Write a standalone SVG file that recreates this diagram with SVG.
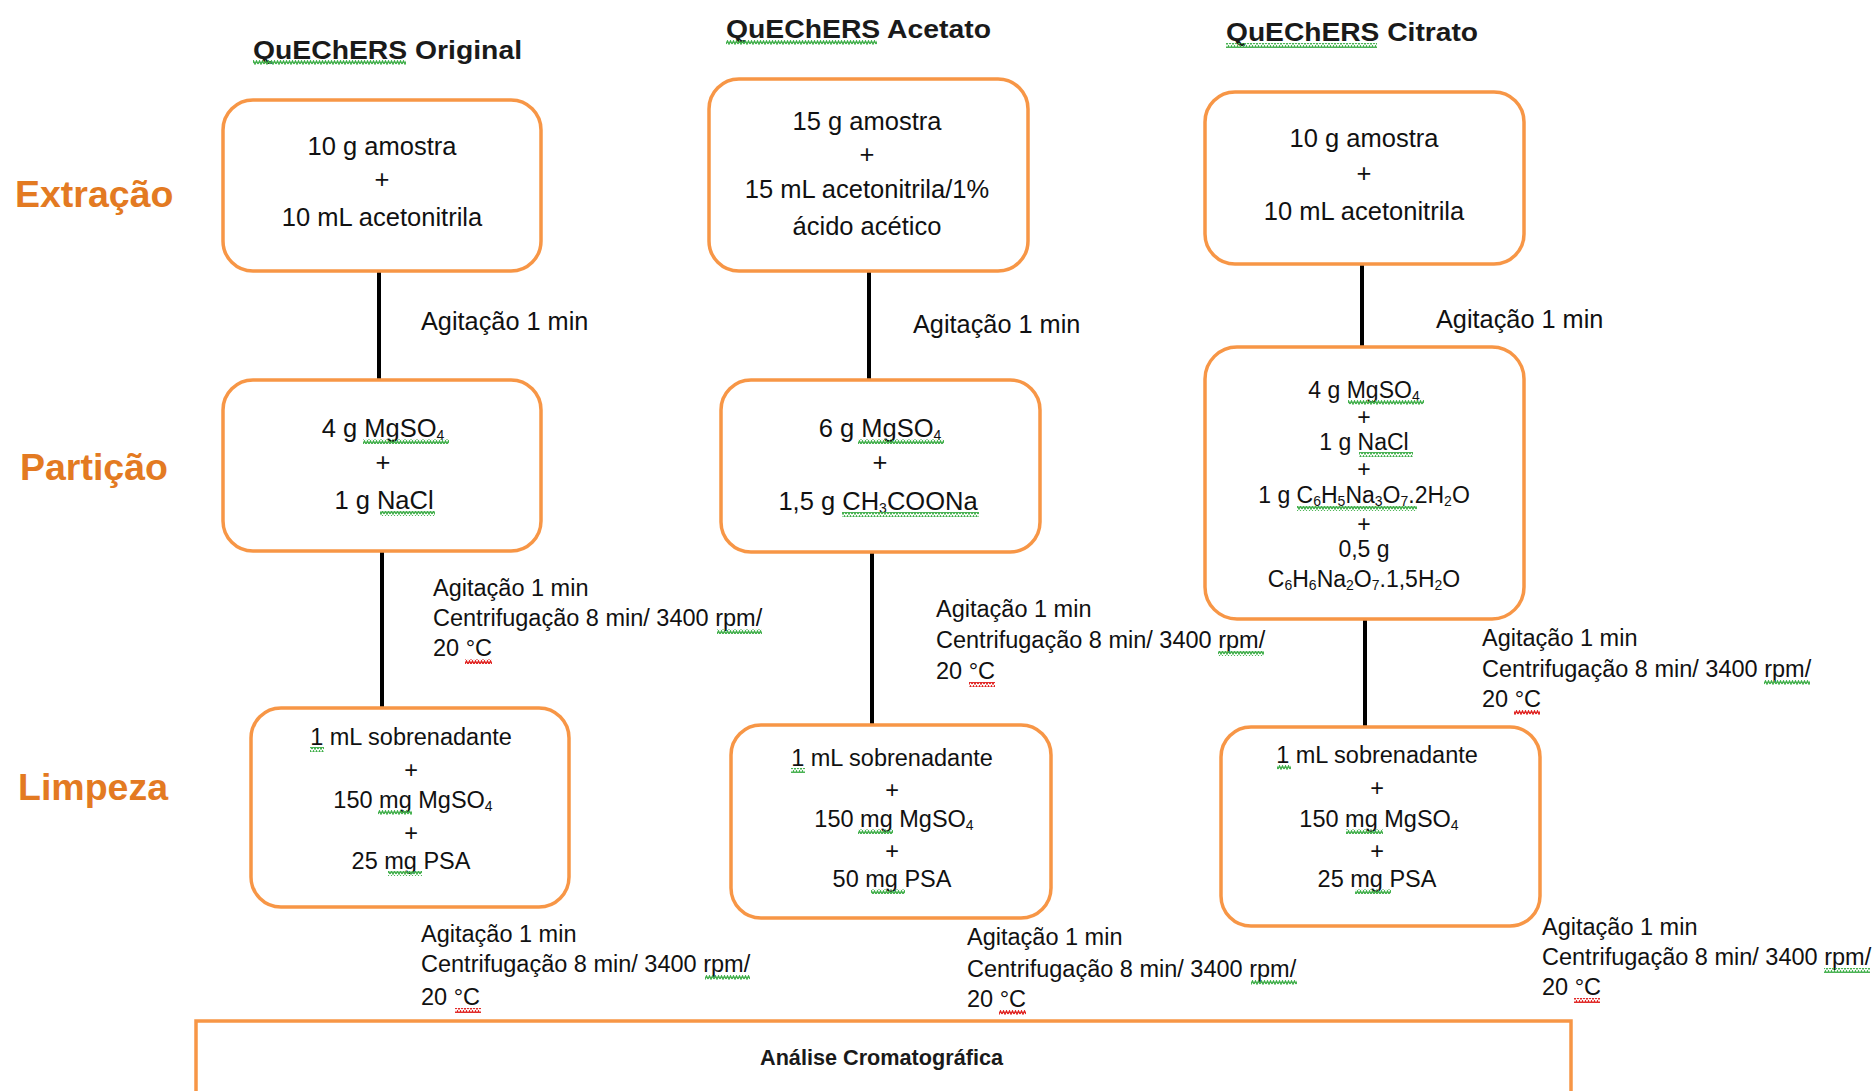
<svg xmlns="http://www.w3.org/2000/svg" width="1874" height="1091" viewBox="0 0 1874 1091">
<style>
.box{fill:#fff;stroke:#F79646;stroke-width:3.5}
.conn{stroke:#000;stroke-width:4;fill:none}
.t{font-family:"Liberation Sans",Arial,sans-serif;fill:#111;text-anchor:middle}
.b{font-size:25.5px}
.s{font-size:23.5px}
.c{font-size:23px}
.lbl{font-family:"Liberation Sans",Arial,sans-serif;font-size:23.5px;fill:#111}
.lbl1{font-size:25.3px}
.row{font-family:"Liberation Sans",Arial,sans-serif;font-size:37.5px;font-weight:bold;fill:#E37A22}
.title{font-family:"Liberation Sans",Arial,sans-serif;font-size:26px;font-weight:bold;fill:#1a1a1a}
.sub{font-size:14px}
.sg{fill:url(#sqg)}
.sr{fill:url(#sqr)}
</style>
<defs>
<pattern id="sqg" width="6" height="5" patternUnits="userSpaceOnUse"><path d="M0 4 L1.5 1 L3 4 L4.5 1 L6 4" fill="none" stroke="#3FAE49" stroke-width="1.4"/></pattern>
<pattern id="sqr" width="6" height="5" patternUnits="userSpaceOnUse"><path d="M0 4 L1.5 1 L3 4 L4.5 1 L6 4" fill="none" stroke="#E0201E" stroke-width="1.4"/></pattern>
</defs>
<rect width="1874" height="1091" fill="#fff"/>

<g id="titles">
<text class="title" x="253" y="59" textLength="269" lengthAdjust="spacingAndGlyphs">QuEChERS Original</text>
<text class="title" x="726" y="38" textLength="265" lengthAdjust="spacingAndGlyphs">QuEChERS Acetato</text>
<text class="title" x="1226" y="41" textLength="252" lengthAdjust="spacingAndGlyphs">QuEChERS Citrato</text>
<rect class="sg" x="253" y="60" width="153" height="5"/>
<rect class="sg" x="726" y="40" width="151" height="5"/>
<rect class="sg" x="1226" y="43" width="151" height="5"/>
</g>

<g id="row-labels">
<text class="row" x="15" y="207">Extração</text>
<text class="row" x="20" y="480">Partição</text>
<text class="row" x="18" y="800">Limpeza</text>
</g>

<g id="connectors">
<line class="conn" x1="379" y1="271" x2="379" y2="380"/>
<line class="conn" x1="382" y1="551" x2="382" y2="708"/>
<line class="conn" x1="869" y1="271" x2="869" y2="380"/>
<line class="conn" x1="872" y1="552" x2="872" y2="725"/>
<line class="conn" x1="1362" y1="263" x2="1362" y2="347"/>
<line class="conn" x1="1365" y1="619" x2="1365" y2="727"/>
</g>

<g id="original-extracao">
<rect class="box" x="223" y="100" width="318" height="171" rx="30"/>
<text class="t b" x="382" y="155">10 g amostra</text>
<text class="t b" x="382" y="188">+</text>
<text class="t b" x="382" y="226">10 mL acetonitrila</text>
</g>
<g id="original-particao">
<rect class="box" x="223" y="380" width="318" height="171" rx="30"/>
<text class="t b" x="383" y="437">4 g MgSO<tspan class="sub" dy="3">4</tspan></text>
<text class="t b" x="383" y="471">+</text>
<text class="t b" x="384" y="509">1 g NaCl</text>
<rect class="sg" x="363" y="439" width="86" height="5"/>
<rect class="sg" x="380" y="511" width="55" height="5"/>
</g>
<g id="original-limpeza">
<rect class="box" x="251" y="708" width="318" height="199" rx="30"/>
<text class="t s" x="411" y="745">1 mL sobrenadante</text>
<text class="t s" x="411" y="778">+</text>
<text class="t s" x="413" y="808">150 mg MgSO<tspan class="sub" dy="3">4</tspan></text>
<text class="t s" x="411" y="841">+</text>
<text class="t s" x="411" y="869">25 mg PSA</text>
<rect class="sg" x="310" y="747" width="14" height="5"/>
<rect class="sg" x="378" y="810" width="34" height="5"/>
<rect class="sg" x="388" y="871" width="34" height="5"/>
</g>

<g id="acetato-extracao">
<rect class="box" x="709" y="79" width="319" height="192" rx="30"/>
<text class="t b" x="867" y="130">15 g amostra</text>
<text class="t b" x="867" y="163">+</text>
<text class="t b" x="867" y="198">15 mL acetonitrila/1%</text>
<text class="t b" x="867" y="235">ácido acético</text>
</g>
<g id="acetato-particao">
<rect class="box" x="721" y="380" width="319" height="172" rx="30"/>
<text class="t b" x="880" y="437">6 g MgSO<tspan class="sub" dy="3">4</tspan></text>
<text class="t b" x="880" y="471">+</text>
<text class="t b" x="878" y="510">1,5 g CH<tspan class="sub" dy="3">3</tspan><tspan dy="-3">COONa</tspan></text>
<rect class="sg" x="858" y="439" width="86" height="5"/>
<rect class="sg" x="842" y="512" width="137" height="5"/>
</g>
<g id="acetato-limpeza">
<rect class="box" x="731" y="725" width="320" height="193" rx="30"/>
<text class="t s" x="892" y="766">1 mL sobrenadante</text>
<text class="t s" x="892" y="798">+</text>
<text class="t s" x="894" y="827">150 mg MgSO<tspan class="sub" dy="3">4</tspan></text>
<text class="t s" x="892" y="859">+</text>
<text class="t s" x="892" y="887">50 mg PSA</text>
<rect class="sg" x="791" y="768" width="14" height="5"/>
<rect class="sg" x="858" y="829" width="35" height="5"/>
<rect class="sg" x="871" y="889" width="34" height="5"/>
</g>

<g id="citrato-extracao">
<rect class="box" x="1205" y="92" width="319" height="172" rx="30"/>
<text class="t b" x="1364" y="147">10 g amostra</text>
<text class="t b" x="1364" y="182">+</text>
<text class="t b" x="1364" y="220">10 mL acetonitrila</text>
</g>
<g id="citrato-particao">
<rect class="box" x="1205" y="347" width="319" height="272" rx="32"/>
<text class="t c" x="1364" y="398">4 g MgSO<tspan class="sub" dy="3">4</tspan></text>
<text class="t c" x="1364" y="425">+</text>
<text class="t c" x="1364" y="450">1 g NaCl</text>
<text class="t c" x="1364" y="477">+</text>
<text class="t c" x="1364" y="503">1 g C<tspan class="sub" dy="3">6</tspan><tspan dy="-3">H</tspan><tspan class="sub" dy="3">5</tspan><tspan dy="-3">Na</tspan><tspan class="sub" dy="3">3</tspan><tspan dy="-3">O</tspan><tspan class="sub" dy="3">7</tspan><tspan dy="-3">.2H</tspan><tspan class="sub" dy="3">2</tspan><tspan dy="-3">O</tspan></text>
<text class="t c" x="1364" y="532">+</text>
<text class="t c" x="1364" y="557">0,5 g</text>
<text class="t c" x="1364" y="587">C<tspan class="sub" dy="3">6</tspan><tspan dy="-3">H</tspan><tspan class="sub" dy="3">6</tspan><tspan dy="-3">Na</tspan><tspan class="sub" dy="3">2</tspan><tspan dy="-3">O</tspan><tspan class="sub" dy="3">7</tspan><tspan dy="-3">.1,5H</tspan><tspan class="sub" dy="3">2</tspan><tspan dy="-3">O</tspan></text>
<rect class="sg" x="1348" y="400" width="76" height="5"/>
<rect class="sg" x="1359" y="452" width="54" height="5"/>
<rect class="sg" x="1297" y="506" width="120" height="5"/>
</g>
<g id="citrato-limpeza">
<rect class="box" x="1221" y="727" width="319" height="199" rx="30"/>
<text class="t s" x="1377" y="763">1 mL sobrenadante</text>
<text class="t s" x="1377" y="796">+</text>
<text class="t s" x="1379" y="827">150 mg MgSO<tspan class="sub" dy="3">4</tspan></text>
<text class="t s" x="1377" y="859">+</text>
<text class="t s" x="1377" y="887">25 mg PSA</text>
<rect class="sg" x="1277" y="765" width="14" height="5"/>
<rect class="sg" x="1346" y="829" width="37" height="5"/>
<rect class="sg" x="1355" y="889" width="36" height="5"/>
</g>

<g id="step-labels">
<text class="lbl lbl1" x="421" y="330">Agitação 1 min</text>
<text class="lbl lbl1" x="913" y="333">Agitação 1 min</text>
<text class="lbl lbl1" x="1436" y="328">Agitação 1 min</text>

<text class="lbl" x="433" y="596">Agitação 1 min</text>
<text class="lbl" x="433" y="626">Centrifugação 8 min/ 3400 rpm/</text>
<text class="lbl" x="433" y="656">20 °C</text>
<rect class="sg" x="717" y="629" width="45" height="5"/>
<rect class="sr" x="465" y="659" width="27" height="5"/>

<text class="lbl" x="936" y="617">Agitação 1 min</text>
<text class="lbl" x="936" y="648">Centrifugação 8 min/ 3400 rpm/</text>
<text class="lbl" x="936" y="679">20 °C</text>
<rect class="sg" x="1218" y="651" width="46" height="5"/>
<rect class="sr" x="969" y="682" width="26" height="5"/>

<text class="lbl" x="1482" y="646">Agitação 1 min</text>
<text class="lbl" x="1482" y="677">Centrifugação 8 min/ 3400 rpm/</text>
<text class="lbl" x="1482" y="707">20 °C</text>
<rect class="sg" x="1764" y="680" width="46" height="5"/>
<rect class="sr" x="1514" y="710" width="26" height="5"/>

<text class="lbl" x="421" y="942">Agitação 1 min</text>
<text class="lbl" x="421" y="972">Centrifugação 8 min/ 3400 rpm/</text>
<text class="lbl" x="421" y="1005">20 °C</text>
<rect class="sg" x="705" y="975" width="45" height="5"/>
<rect class="sr" x="455" y="1008" width="26" height="5"/>

<text class="lbl" x="967" y="945">Agitação 1 min</text>
<text class="lbl" x="967" y="977">Centrifugação 8 min/ 3400 rpm/</text>
<text class="lbl" x="967" y="1007">20 °C</text>
<rect class="sg" x="1251" y="980" width="46" height="5"/>
<rect class="sr" x="999" y="1010" width="27" height="5"/>

<text class="lbl" x="1542" y="935">Agitação 1 min</text>
<text class="lbl" x="1542" y="965">Centrifugação 8 min/ 3400 rpm/</text>
<text class="lbl" x="1542" y="995">20 °C</text>
<rect class="sg" x="1824" y="968" width="46" height="5"/>
<rect class="sr" x="1574" y="998" width="26" height="5"/>
</g>

<g id="analise">
<rect x="196" y="1021" width="1375" height="90" fill="#fff" stroke="#F79646" stroke-width="3.5"/>
<text x="760" y="1065" font-family="'Liberation Sans',Arial,sans-serif" font-size="22px" font-weight="bold" fill="#1a1a1a" textLength="243" lengthAdjust="spacingAndGlyphs">Análise Cromatográfica</text>
</g>
</svg>
